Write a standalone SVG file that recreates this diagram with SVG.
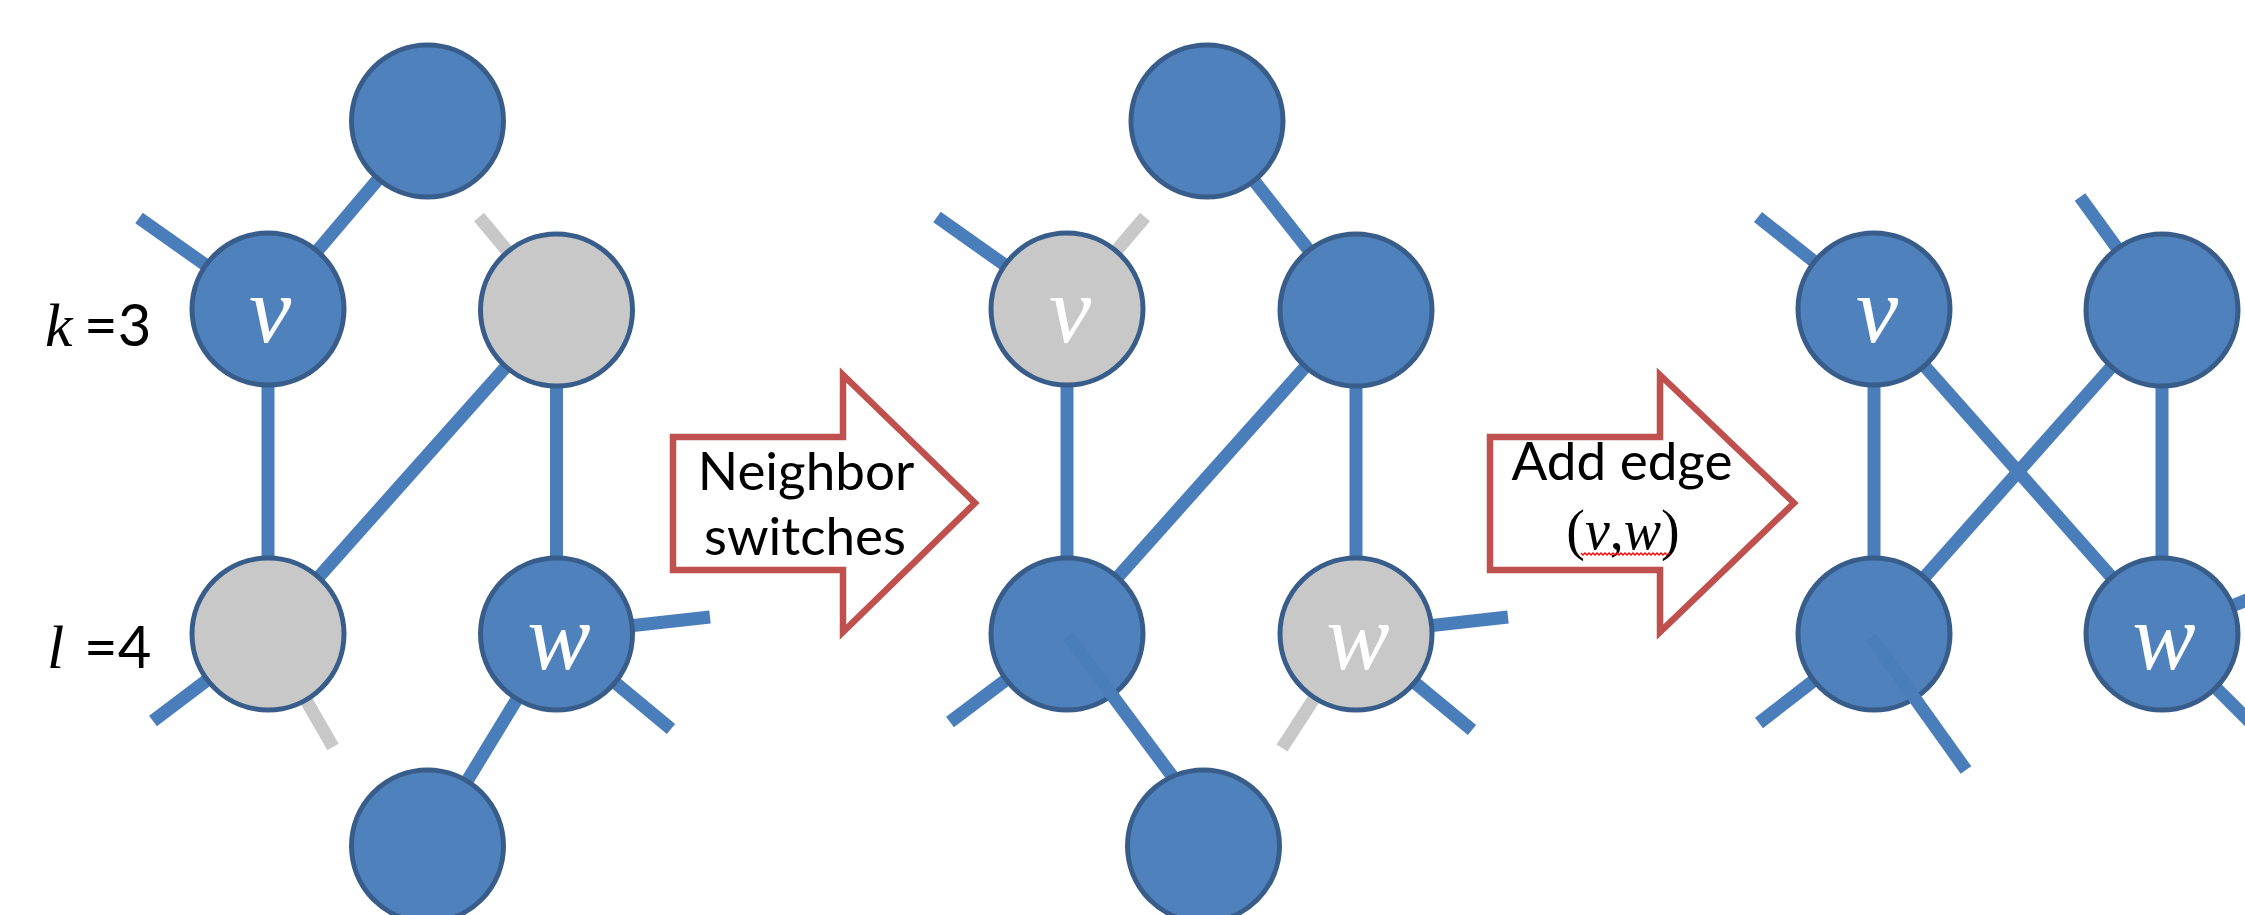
<svg xmlns="http://www.w3.org/2000/svg" width="2245" height="915" viewBox="0 0 2245 915">
<style>
.e{stroke:#4a7ebb;stroke-width:13;stroke-linecap:butt;fill:none}
.g{stroke:#c8c8c8;stroke-width:13;stroke-linecap:butt;fill:none}
.n{fill:#4f81bd;stroke:#385d8a;stroke-width:5}
.ng{fill:#c8c8c8;stroke:#385d8a;stroke-width:5}
.lbl{font-family:"Liberation Serif",serif;font-style:italic;font-size:95px;fill:#ffffff;text-anchor:middle}
.arr{fill:#ffffff;stroke:#c0504d;stroke-width:6.5;stroke-linejoin:miter}
.at{font-family:Lato,"Liberation Sans",sans-serif;font-size:53px;fill:#000000;text-anchor:middle}
.mi{font-family:"Liberation Serif",serif;font-style:italic}
.num{font-family:Lato,"Liberation Sans",sans-serif;font-size:58px;fill:#000000}
</style>
<rect width="2245" height="915" fill="#ffffff"/>
<g id="connectors">
  <line class="e" x1="268" y1="309" x2="427.5" y2="121"/>
  <line class="e" x1="268" y1="309" x2="139" y2="218"/>
  <line class="e" x1="268" y1="309" x2="268" y2="634"/>
  <line class="e" x1="556.5" y1="310" x2="268" y2="634"/>
  <line class="e" x1="556.5" y1="310" x2="556.5" y2="634"/>
  <line class="g" x1="556.5" y1="310" x2="479" y2="217"/>
  <line class="e" x1="268" y1="634" x2="153" y2="721"/>
  <line class="g" x1="268" y1="634" x2="333" y2="747"/>
  <line class="e" x1="556.5" y1="634" x2="710" y2="617"/>
  <line class="e" x1="556.5" y1="634" x2="671" y2="729"/>
  <line class="e" x1="556.5" y1="634" x2="427.5" y2="846"/>
  <line class="e" x1="1067" y1="309" x2="937" y2="217"/>
  <line class="g" x1="1067" y1="309" x2="1145" y2="217"/>
  <line class="e" x1="1067" y1="309" x2="1067" y2="634"/>
  <line class="e" x1="1207" y1="121" x2="1356" y2="310"/>
  <line class="e" x1="1356" y1="310" x2="1067" y2="634"/>
  <line class="e" x1="1356" y1="310" x2="1356" y2="634"/>
  <line class="e" x1="1067" y1="634" x2="950" y2="722"/>
  <line class="e" x1="1356" y1="634" x2="1508" y2="617"/>
  <line class="e" x1="1356" y1="634" x2="1472" y2="730"/>
  <line class="g" x1="1356" y1="634" x2="1282" y2="748"/>
  <line class="e" x1="1874" y1="309" x2="1758" y2="217"/>
  <line class="e" x1="2162" y1="310" x2="2080" y2="197"/>
  <line class="e" x1="1874" y1="309" x2="1874" y2="634"/>
  <line class="e" x1="2162" y1="310" x2="2162" y2="634"/>
  <line class="e" x1="1874" y1="309" x2="2162" y2="634"/>
  <line class="e" x1="2162" y1="310" x2="1874" y2="634"/>
  <line class="e" x1="1874" y1="634" x2="1759" y2="723"/>
  <line class="e" x1="2162" y1="634" x2="2252" y2="598"/>
  <line class="e" x1="2162" y1="634" x2="2252" y2="724"/>
</g>
<g id="p1-top"><circle class="n" cx="427.5" cy="121" r="76"/></g>
<g id="p1-v"><circle class="n" cx="268" cy="309" r="76"/><text class="lbl" x="270" y="342">v</text></g>
<g id="p1-x"><circle class="ng" cx="556.5" cy="310" r="76"/></g>
<g id="p1-y"><circle class="ng" cx="268" cy="634" r="76"/></g>
<g id="p1-w"><circle class="n" cx="556.5" cy="634" r="76"/><text class="lbl" x="559" y="669">w</text></g>
<g id="p1-bottom"><circle class="n" cx="427.5" cy="846" r="76"/></g>
<g id="p2-top"><circle class="n" cx="1207" cy="121" r="76"/></g>
<g id="p2-v"><circle class="ng" cx="1067" cy="309" r="76"/><text class="lbl" x="1070" y="342">v</text></g>
<g id="p2-x"><circle class="n" cx="1356" cy="310" r="76"/></g>
<g id="p2-y"><circle class="n" cx="1067" cy="634" r="76"/></g>
<g id="p2-w"><circle class="ng" cx="1356" cy="634" r="76"/><text class="lbl" x="1358" y="669">w</text></g>
<g id="p3-v"><circle class="n" cx="1874" cy="309" r="76"/><text class="lbl" x="1877" y="342">v</text></g>
<g id="p3-x"><circle class="n" cx="2162" cy="310" r="76"/></g>
<g id="p3-y"><circle class="n" cx="1874" cy="634" r="76"/></g>
<g id="p3-w"><circle class="n" cx="2162" cy="634" r="76"/><text class="lbl" x="2164" y="669">w</text></g>
<g id="connectors-over">
  <line class="e" x1="1068" y1="636" x2="1190" y2="800"/>
  <line class="e" x1="1871" y1="637" x2="1966" y2="770"/>
</g>
<g id="p2-bottom"><circle class="n" cx="1203.5" cy="846" r="76"/></g>
<g id="arrow1">
  <polygon class="arr" points="673,437 843,437 843,375 975,503 843,632 843,570 673,570"/>
  <text class="at" x="806" y="490">Neighbor</text>
  <text class="at" x="805" y="555">switches</text>
</g>
<g id="arrow2">
  <polygon class="arr" points="1490,437 1660,437 1660,375 1794,503 1660,632 1660,570 1490,570"/>
  <text class="at" x="1622" y="480">Add edge</text>
  <text x="1623" y="549" text-anchor="middle" font-family="Liberation Serif,serif" font-size="56" fill="#000000">(<tspan font-style="italic">v</tspan>,<tspan font-style="italic">w</tspan>)</text>
  <polyline fill="none" stroke="#ff0000" stroke-width="1.3" points="1581,553 1583,555 1585,553 1587,555 1589,553 1591,555 1593,553 1595,555 1597,553 1599,555 1601,553 1603,555 1605,553 1607,555 1609,553 1611,555 1613,553 1615,555 1617,553 1619,555 1621,553 1623,555 1625,553 1627,555 1629,553 1631,555 1633,553 1635,555 1637,553 1639,555 1641,553 1643,555 1645,553 1647,555 1649,553 1651,555 1653,553 1655,555 1657,553 1659,555 1661,553 1663,555 1665,553 1667,555 1669,553"/>
</g>
<g id="label-k">
  <text x="45" y="346" fill="#000000"><tspan class="mi" font-size="62">k</tspan><tspan class="num" x="84">=3</tspan></text>
</g>
<g id="label-l">
  <text x="47" y="668" fill="#000000"><tspan class="mi" font-size="62">l</tspan><tspan class="num" x="84">=4</tspan></text>
</g>
</svg>
